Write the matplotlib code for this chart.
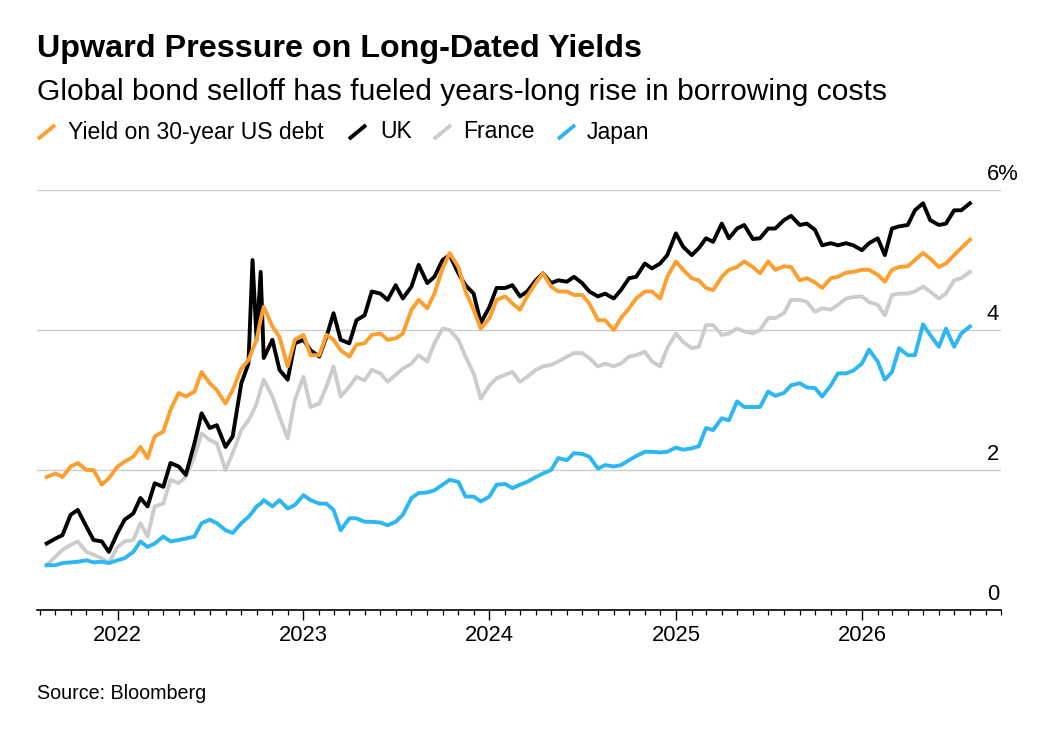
import numpy as np
import pandas as pd
import matplotlib
matplotlib.use('Agg')
import matplotlib.pyplot as plt
import matplotlib.dates as mdates
from matplotlib.lines import Line2D

plt.rcParams['font.family'] = ['Liberation Sans', 'DejaVu Sans']

# semi-monthly readings, Aug 2021 - Aug 2026
dates = pd.date_range('2021-08-15', '2026-08-01', freq='SMS')

us = [1.90, 1.95, 1.90, 2.05, 2.10, 2.00, 2.00, 1.79, 1.88, 2.05,
      2.12, 2.19, 2.33, 2.17, 2.48, 2.55, 2.86, 3.10, 3.05, 3.12,
      3.40, 3.24, 3.14, 2.95, 3.14, 3.45, 3.57, 3.86, 4.33, 4.05,
      3.90, 3.48, 3.86, 3.93, 3.64, 3.64, 3.93, 3.86, 3.71, 3.62,
      3.79, 3.81,
      3.93, 3.95, 3.86, 3.88, 3.95, 4.29, 4.43, 4.31, 4.52, 4.88,
      5.10, 4.90, 4.55, 4.29, 4.02, 4.17, 4.43, 4.48, 4.38, 4.29,
      4.48, 4.67, 4.81, 4.62, 4.55, 4.55, 4.50, 4.50, 4.38, 4.14,
      4.14, 4.00, 4.17, 4.31, 4.45, 4.55, 4.55, 4.45,
      4.76, 4.98, 4.86, 4.74, 4.71, 4.60, 4.57, 4.76, 4.86, 4.90,
      4.98, 4.90, 4.81, 4.98, 4.86, 4.91, 4.90, 4.71, 4.74, 4.68,
      4.60, 4.74, 4.76, 4.82, 4.83, 4.86, 4.86, 4.79, 4.69, 4.86,
      4.90, 4.91, 5.00, 5.10, 5.02, 4.90, 4.95, 5.07, 5.17, 5.29]

uk = [0.95, 1.02, 1.07, 1.36, 1.43, 1.19, 1.00, 0.98, 0.83, 1.10,
      1.29, 1.38, 1.60, 1.48, 1.81, 1.76, 2.10, 2.05, 1.93, 2.38,
      2.81, 2.60, 2.64, 2.33, 2.48, 3.24, 3.52, 3.86, 3.60, 3.86,
      3.43, 3.29, 3.81, 3.86, 3.71, 3.62, 3.90, 4.24, 3.86, 3.81,
      4.14, 4.21,
      4.55, 4.52, 4.43, 4.64, 4.45, 4.62, 4.93, 4.67, 4.76, 5.00,
      5.07, 4.81, 4.64, 4.52, 4.10, 4.33, 4.60, 4.60, 4.64, 4.48,
      4.55, 4.71, 4.81, 4.67, 4.71, 4.69, 4.76, 4.67, 4.55, 4.48,
      4.52, 4.45, 4.57, 4.74, 4.76, 4.95, 4.88, 4.95,
      5.07, 5.38, 5.19, 5.07, 5.17, 5.31, 5.26, 5.52, 5.31, 5.45,
      5.50, 5.30, 5.31, 5.45, 5.45, 5.57, 5.63, 5.50, 5.52, 5.43,
      5.21, 5.24, 5.21, 5.24, 5.21, 5.14, 5.24, 5.31, 5.07, 5.45,
      5.48, 5.50, 5.71, 5.81, 5.57, 5.50, 5.52, 5.71, 5.71, 5.81]

france = [0.64, 0.76, 0.86, 0.93, 0.98, 0.83, 0.79, 0.74, 0.67, 0.90,
          0.98, 1.00, 1.24, 1.05, 1.48, 1.52, 1.86, 1.81, 1.90, 2.19,
          2.52, 2.43, 2.38, 2.00, 2.24, 2.57, 2.71, 2.95, 3.29, 3.05,
          2.76, 2.45, 3.00, 3.33, 2.90, 2.95, 3.19, 3.48, 3.05, 3.19,
          3.33, 3.28,
          3.43, 3.38, 3.26, 3.36, 3.45, 3.52, 3.64, 3.55, 3.81, 4.02,
          4.00, 3.86, 3.62, 3.38, 3.02, 3.21, 3.31, 3.36, 3.40, 3.26,
          3.33, 3.43, 3.48, 3.50, 3.55, 3.62, 3.67, 3.67, 3.60, 3.48,
          3.52, 3.48, 3.52, 3.62, 3.64, 3.69, 3.55, 3.48,
          3.74, 3.95, 3.83, 3.74, 3.76, 4.07, 4.07, 3.93, 3.95, 4.02,
          3.98, 3.95, 4.00, 4.17, 4.17, 4.24, 4.43, 4.43, 4.40, 4.26,
          4.31, 4.29, 4.36, 4.45, 4.47, 4.48, 4.40, 4.36, 4.21, 4.50,
          4.52, 4.52, 4.55, 4.62, 4.55, 4.45, 4.52, 4.71, 4.74, 4.83]

japan = [0.64, 0.64, 0.67, 0.68, 0.69, 0.71, 0.68, 0.69, 0.67, 0.71,
         0.74, 0.83, 0.98, 0.90, 0.95, 1.05, 0.98, 1.00, 1.02, 1.05,
         1.24, 1.29, 1.24, 1.14, 1.10, 1.24, 1.33, 1.48, 1.57, 1.48,
         1.57, 1.45, 1.50, 1.64, 1.57, 1.52, 1.52, 1.43, 1.14, 1.31,
         1.31, 1.26,
         1.26, 1.25, 1.21, 1.26, 1.36, 1.60, 1.67, 1.68, 1.71, 1.79,
         1.86, 1.83, 1.62, 1.62, 1.55, 1.62, 1.79, 1.80, 1.74, 1.79,
         1.83, 1.90, 1.95, 2.00, 2.17, 2.14, 2.24, 2.23, 2.19, 2.02,
         2.07, 2.05, 2.07, 2.14, 2.20, 2.26, 2.26, 2.25,
         2.26, 2.32, 2.29, 2.31, 2.34, 2.60, 2.57, 2.74, 2.71, 2.98,
         2.90, 2.90, 2.90, 3.12, 3.06, 3.10, 3.21, 3.24, 3.18, 3.17,
         3.05, 3.21, 3.38, 3.38, 3.42, 3.52, 3.72, 3.55, 3.29, 3.40,
         3.74, 3.64, 3.64, 4.08, 3.93, 3.76, 4.02, 3.76, 3.95, 4.05]

# extra readings around the UK gilt spike
spike_dates = pd.to_datetime(['2022-09-23', '2022-10-09'])
spike_us = [3.72, 4.15]
spike_uk = [5.00, 4.83]
spike_france = [2.82, 3.15]
spike_japan = [1.40, 1.52]

df = pd.DataFrame({'us': us, 'uk': uk, 'france': france, 'japan': japan},
                  index=dates)
spikes = pd.DataFrame({'us': spike_us, 'uk': spike_uk,
                       'france': spike_france, 'japan': spike_japan},
                      index=spike_dates)
df = pd.concat([df, spikes]).sort_index()

series = [('france', 'France', '#cccccc'),
          ('japan', 'Japan', '#2cb7f4'),
          ('uk', 'UK', '#000000'),
          ('us', 'Yield on 30-year US debt', '#fd9f2f')]

W, H = 1054, 746
fig = plt.figure(figsize=(W / 100, H / 100), dpi=100)
ax = fig.add_axes([37 / W, (H - 610) / H, (1001 - 37) / W, 420 / H])

for col, name, color in series:
    ax.plot(df.index, df[col], color=color, lw=2.8,
            solid_joinstyle='round', zorder=3)

ax.set_ylim(0, 6)
ax.set_xlim(pd.Timestamp('2021-07-27'), pd.Timestamp('2026-10-01'))
ax.set_yticks([2, 4, 6])
ax.yaxis.grid(True, color='#cccccc', lw=1.0)
ax.set_axisbelow(True)
ax.tick_params(axis='y', left=False, labelleft=False)
for side in ['left', 'right', 'top']:
    ax.spines[side].set_visible(False)
ax.spines['bottom'].set_color('black')
ax.spines['bottom'].set_linewidth(1.2)
ax.spines['bottom'].set_zorder(4)

ax.xaxis.set_major_locator(mdates.YearLocator())
ax.xaxis.set_major_formatter(mdates.DateFormatter('%Y'))
ax.xaxis.set_minor_locator(mdates.MonthLocator(bymonth=range(2, 13)))
ax.tick_params(axis='x', which='major', length=7.5, width=1.0,
               labelsize=15.8, pad=3, color='black')
ax.tick_params(axis='x', which='minor', length=3.8, width=0.9, color='black')

for v, lab in [(0, '0'), (2, '2'), (4, '4'), (6, '6%')]:
    ax.annotate(lab, xy=(1, v), xycoords=('axes fraction', 'data'),
                xytext=(-10.3, 7.2), textcoords='offset points',
                ha='left', va='baseline', fontsize=15.8)

fig.text(37 / W, 1 - 57 / H, 'Upward Pressure on Long-Dated Yields',
         fontsize=23.2, fontweight='bold', va='baseline')
fig.text(37 / W, 1 - 100 / H,
         'Global bond selloff has fueled years-long rise in borrowing costs',
         fontsize=21.6, va='baseline')

# legend: slanted strokes + labels
legend_items = [('us', 38, 68), ('uk', 349, 380),
                ('france', 434, 463), ('japan', 558, 587)]
colors = {c: col for c, n, col in series}
names = {c: n for c, n, col in series}
for key, sx, tx in legend_items:
    fig.add_artist(Line2D([sx / W, (sx + 17) / W],
                          [1 - 139 / H, 1 - 125 / H],
                          color=colors[key], lw=2.8,
                          solid_capstyle='butt'))
    fig.text(tx / W, 1 - 138.5 / H, names[key], fontsize=16.6,
             va='baseline')

fig.text(37 / W, 1 - 699 / H, 'Source: Bloomberg', fontsize=14.2,
         va='baseline')

fig.savefig('out.png', dpi=100)
